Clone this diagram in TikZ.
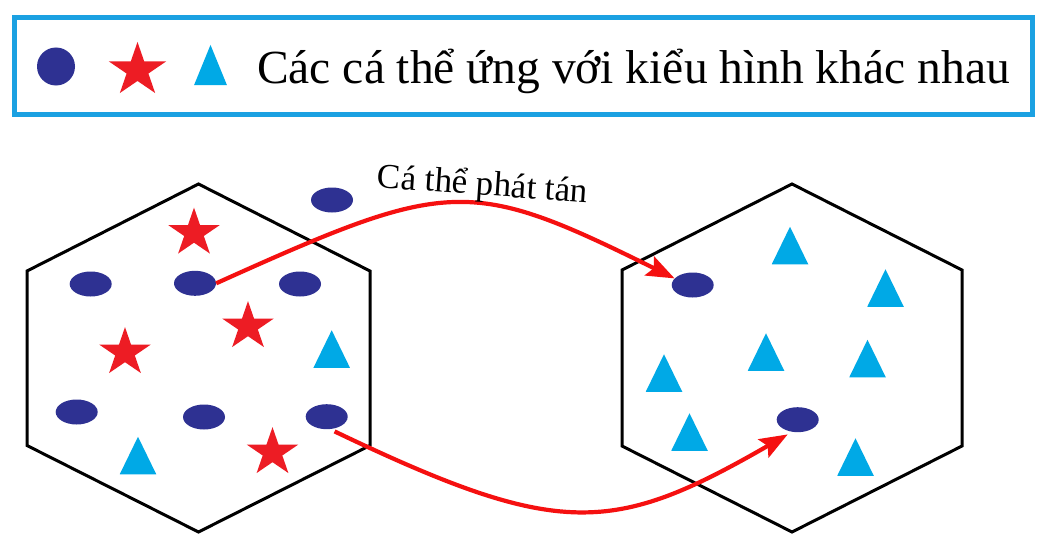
\documentclass[tikz,border=0pt]{standalone}
\usepackage{fontspec}
\setmainfont{Liberation Serif}
\usetikzlibrary{shapes.geometric,arrows.meta}
\definecolor{navy}{RGB}{46,49,146}
\definecolor{sred}{RGB}{237,28,36}
\definecolor{tcyan}{RGB}{0,169,230}
\definecolor{lborder}{RGB}{27,161,226}
\definecolor{ared}{RGB}{245,16,16}
\begin{document}
\begin{tikzpicture}[x=1pt,y=-1pt,
  ind/.style={ellipse,fill=navy,minimum width=42pt,minimum height=25pt,inner sep=0pt},
  hexa/.style={line width=3pt,line join=miter},
  disp/.style={draw=ared,line width=4.2pt,-{Stealth[length=28pt,width=21pt,inset=5pt]}},
  pics/starp/.style={code={\fill[sred,yscale=0.94] (-90:#1) -- (-54:{0.382*#1}) -- (-18:#1) -- (18:{0.382*#1}) -- (54:#1) -- (90:{0.382*#1}) -- (126:#1) -- (162:{0.382*#1}) -- (198:#1) -- (234:{0.382*#1}) -- cycle;}},
  pics/trip/.style={code={\fill[tcyan] (-18.25,18.75) -- (18.25,18.75) -- (0,-18.75) -- cycle;}}
]
\fill[white] (0,0) rectangle (1046,543);
\useasboundingbox (0,0) rectangle (1046,543);

% legend
\draw[lborder,line width=5pt] (14,17.5) rectangle (1032,114.5);
\node[circle,fill=navy,minimum size=38pt,inner sep=0pt] (lc) at (56,66.5) {};
\pic at (137.5,70.2) {starp=30};
\pic[xscale=0.9,yscale=1.07] at (210.5,65) {trip};
\node[anchor=base west,inner sep=0pt,font=\fontsize{47.5}{50}\selectfont] (lt) at (257,83) {Các cá thể ứng với kiểu hình khác nhau};

% hexagons
\draw[hexa] (198.5,184) -- (370,271) -- (370,445.5) -- (198.5,532) -- (27,445.5) -- (27,271) -- cycle;
\draw[hexa] (792,184) -- (962,270) -- (962,446) -- (792,532) -- (622,446) -- (622,270) -- cycle;

% left population
\node[ind] (L1) at (90.7,284) {};
\node[ind] (L2) at (195,283.3) {};
\node[ind] (L3) at (300,284) {};
\node[ind] (L4) at (76.7,412) {};
\node[ind] (L5) at (204,417) {};
\node[ind] (L6) at (326.7,416.7) {};
\node[ind] (O1) at (332,200) {};
\pic at (194,233) {starp=27};
\pic at (248,326.5) {starp=27};
\pic at (125,352.5) {starp=27};
\pic at (272.5,452.5) {starp=27};
\pic at (331.7,349) {trip};
\pic at (138,455.5) {trip};

% right population
\node[ind] (R1) at (692.7,285) {};
\node[ind] (R2) at (797.7,419.7) {};
\pic at (790,245.5) {trip};
\pic at (885.5,288) {trip};
\pic at (766,352) {trip};
\pic at (867.5,358.5) {trip};
\pic at (664,373) {trip};
\pic at (689.5,432) {trip};
\pic at (855.5,457) {trip};

% dispersal arrows
\draw[disp] (L2.east) .. controls +(233,-105) and +(-206,-102) .. (R1.160);
\draw[disp,shorten <=5pt,shorten >=5pt] (L6.-75) .. controls +(230,110) and +(-179,103) .. (R2.-115);
\node[anchor=base,inner sep=0pt,rotate=-4,font=\fontsize{35}{37}\selectfont] (lab) at (482,195) {Cá thể phát tán};
\end{tikzpicture}
\end{document}
